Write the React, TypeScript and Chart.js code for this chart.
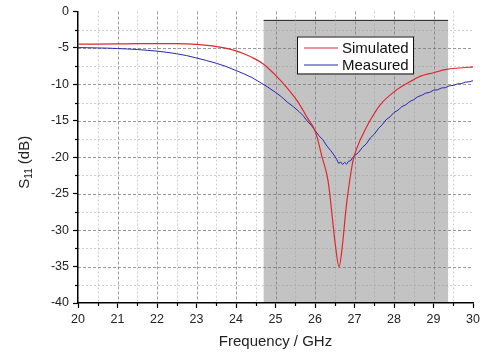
import React, { useEffect, useRef } from "react";
import { Chart, registerables } from "chart.js";

Chart.register(...registerables);

// ---- data ----
const simFreq = [20.0, 20.5, 21.0, 21.5, 22.0, 22.5, 23.0, 23.4, 23.7, 24.0, 24.2, 24.48, 24.69, 25.03, 25.32, 25.58, 25.83, 25.96, 26.04, 26.17, 26.33, 26.42, 26.51, 26.61, 26.7, 26.78, 26.87, 26.97, 27.1, 27.2, 27.39, 27.65, 28.03, 28.35, 28.66, 29.0, 29.33, 29.65, 30.0];
const simDb = [-4.48, -4.47, -4.45, -4.42, -4.4, -4.4, -4.5, -4.72, -5.0, -5.4, -5.8, -6.5, -7.2, -8.9, -10.65, -12.5, -14.8, -15.9, -17.0, -19.8, -23.2, -27.3, -31.8, -35.0, -31.8, -27.3, -23.5, -20.3, -18.2, -17.0, -15.0, -12.8, -10.9, -9.8, -8.9, -8.4, -7.95, -7.75, -7.6];

const measFreq = [20.0, 20.25, 20.5, 20.75, 21.0, 21.25, 21.5, 21.75, 22.0, 22.25, 22.5, 22.75, 23.0, 23.25, 23.5, 23.75, 24.0, 24.2, 24.4, 24.6, 24.8, 25.0, 25.15, 25.3, 25.45, 25.6, 25.7, 25.8, 25.9, 26.0, 26.1, 26.2, 26.3, 26.4, 26.5, 26.55, 26.6, 26.65, 26.7, 26.75, 26.8, 26.85, 26.9, 26.95, 27.0, 27.1, 27.2, 27.3, 27.4, 27.5, 27.6, 27.7, 27.8, 27.9, 28.0, 28.1, 28.2, 28.3, 28.4, 28.5, 28.6, 28.7, 28.8, 28.9, 29.0, 29.1, 29.2, 29.3, 29.4, 29.5, 29.6, 29.7, 29.8, 29.9, 30.0];
const measDb = [-4.95, -4.97, -5.0, -5.03, -5.08, -5.14, -5.22, -5.32, -5.44, -5.6, -5.8, -6.05, -6.38, -6.72, -7.1, -7.55, -8.1, -8.55, -9.05, -9.7, -10.35, -11.1, -11.7, -12.45, -13.05, -13.75, -14.3, -15.0, -15.6, -16.3, -17.05, -17.6, -18.45, -19.1, -19.85, -20.3, -20.85, -20.65, -21.0, -20.7, -20.95, -20.55, -20.5, -20.05, -19.8, -19.35, -18.65, -18.15, -17.35, -16.85, -16.1, -15.55, -14.85, -14.45, -13.85, -13.55, -13.05, -12.8, -12.35, -12.1, -11.7, -11.5, -11.2, -11.1, -10.8, -10.75, -10.5, -10.45, -10.2, -10.15, -9.95, -9.9, -9.7, -9.65, -9.5];

const seriesLabels = ["Simulated", "Measured"];
const seriesColors = ["#e2262e", "#2828b4"];

const xTickMin = 20;
const xTickMax = 30;
const yTickMin = -40;
const yTickMax = 0;

// shaded band (GHz range and top in dB)
const bandStart = 24.7;
const bandEnd = 29.37;
const bandTop = -1.1;

const FONT = "'Liberation Sans', Arial, sans-serif";

const backgroundPlugin = {
  id: "bgGrid",
  beforeDraw(chart: any) {
    const { ctx, chartArea, scales } = chart;
    const xs = scales.x;
    const ys = scales.y;
    ctx.save();
    // band
    const bx0 = xs.getPixelForValue(bandStart);
    const bx1 = xs.getPixelForValue(bandEnd);
    const by0 = ys.getPixelForValue(bandTop);
    const by1 = ys.getPixelForValue(yTickMin);
    ctx.fillStyle = "#c3c3c3";
    ctx.fillRect(bx0, by0, bx1 - bx0, by1 - by0);
    ctx.strokeStyle = "#333";
    ctx.lineWidth = 1;
    ctx.beginPath();
    ctx.moveTo(bx0, Math.round(by0) + 0.5);
    ctx.lineTo(bx1, Math.round(by0) + 0.5);
    ctx.stroke();

    // grid lines
    ctx.lineWidth = 1;
    // minor
    ctx.setLineDash([2, 2]);
    ctx.strokeStyle = "rgba(150,150,150,0.45)";
    for (let v = xTickMin + 0.5; v < xTickMax; v += 1) {
      const px = Math.round(xs.getPixelForValue(v)) + 0.5;
      ctx.beginPath();
      ctx.moveTo(px, chartArea.top);
      ctx.lineTo(px, chartArea.bottom);
      ctx.stroke();
    }
    for (let v = yTickMin + 2.5; v < yTickMax; v += 5) {
      const py = Math.round(ys.getPixelForValue(v)) + 0.5;
      ctx.beginPath();
      ctx.moveTo(chartArea.left, py);
      ctx.lineTo(chartArea.right, py);
      ctx.stroke();
    }
    // major
    ctx.setLineDash([3, 2]);
    ctx.strokeStyle = "rgba(120,120,120,0.75)";
    for (let v = xTickMin + 1; v < xTickMax; v += 1) {
      const px = Math.round(xs.getPixelForValue(v)) + 0.5;
      ctx.beginPath();
      ctx.moveTo(px, chartArea.top);
      ctx.lineTo(px, chartArea.bottom);
      ctx.stroke();
    }
    for (let v = yTickMin + 5; v < yTickMax; v += 5) {
      const py = Math.round(ys.getPixelForValue(v)) + 0.5;
      ctx.beginPath();
      ctx.moveTo(chartArea.left, py);
      ctx.lineTo(chartArea.right, py);
      ctx.stroke();
    }
    ctx.restore();
  },
  afterDraw(chart: any) {
    const { ctx, chartArea, scales } = chart;
    const xs = scales.x;
    const ys = scales.y;
    ctx.save();
    // minor ticks
    ctx.strokeStyle = "#000";
    ctx.lineWidth = 1.2;
    ctx.setLineDash([]);
    for (let v = xTickMin + 0.5; v < xTickMax; v += 1) {
      const px = Math.round(xs.getPixelForValue(v)) + 0.5;
      ctx.beginPath();
      ctx.moveTo(px, chartArea.bottom);
      ctx.lineTo(px, chartArea.bottom + 3);
      ctx.stroke();
    }
    for (let v = yTickMin + 2.5; v < yTickMax; v += 5) {
      const py = Math.round(ys.getPixelForValue(v)) + 0.5;
      ctx.beginPath();
      ctx.moveTo(chartArea.left, py);
      ctx.lineTo(chartArea.left - 3, py);
      ctx.stroke();
    }

    // y title with subscript
    const cy = (chartArea.top + chartArea.bottom) / 2 + 5;
    ctx.translate(25, cy);
    ctx.rotate(-Math.PI / 2);
    ctx.fillStyle = "#222";
    ctx.textBaseline = "middle";
    const big = `15px ${FONT}`;
    const small = `10px ${FONT}`;
    ctx.font = big;
    const wS = ctx.measureText("S").width;
    const wRest = ctx.measureText(" (dB)").width;
    ctx.font = small;
    const wSub = ctx.measureText("11").width;
    const total = wS + wSub + wRest;
    let x = -total / 2;
    ctx.font = big;
    ctx.textAlign = "left";
    ctx.fillText("S", x, 0);
    x += wS;
    ctx.font = small;
    ctx.fillText("11", x, 4);
    x += wSub;
    ctx.font = big;
    ctx.fillText(" (dB)", x, 0);
    ctx.restore();

    // legend
    ctx.save();
    const lx = chartArea.left + 219;
    const ly = chartArea.top + 25;
    const lw = 116;
    const lh = 37;
    ctx.fillStyle = "#fff";
    ctx.fillRect(lx, ly, lw, lh);
    ctx.strokeStyle = "#111";
    ctx.lineWidth = 1;
    ctx.strokeRect(lx + 0.5, ly + 0.5, lw, lh);
    ctx.font = `15px ${FONT}`;
    ctx.textBaseline = "middle";
    ctx.textAlign = "left";
    chart.data.datasets.forEach((ds: any, i: number) => {
      const yy = ly + 11 + i * 17;
      ctx.strokeStyle = ds.borderColor;
      ctx.lineWidth = 1.2;
      ctx.beginPath();
      ctx.moveTo(lx + 7, yy + 0.5);
      ctx.lineTo(lx + 41, yy + 0.5);
      ctx.stroke();
      ctx.fillStyle = "#111";
      ctx.fillText(ds.label, lx + 45, yy + 1);
    });
    ctx.restore();
  },
};

export default function App() {
  const ref = useRef<HTMLCanvasElement | null>(null);
  useEffect(() => {
    document.body.style.margin = "0";
    if (!ref.current) return;
    const chart = new Chart(ref.current, {
      type: "line",
      data: {
        datasets: [
          {
            label: seriesLabels[0],
            data: simFreq.map((f, i) => ({ x: f, y: simDb[i] })),
            borderColor: seriesColors[0],
            borderWidth: 1.2,
            pointRadius: 0,
            tension: 0.4,
            cubicInterpolationMode: "monotone",
            fill: false,
          },
          {
            label: seriesLabels[1],
            data: measFreq.map((f, i) => ({ x: f, y: measDb[i] })),
            borderColor: seriesColors[1],
            borderWidth: 1.0,
            pointRadius: 0,
            tension: 0,
            fill: false,
          },
        ],
      },
      options: {
        animation: false,
        responsive: false,
        maintainAspectRatio: false,
        layout: { padding: { top: 10, right: 13, left: 0, bottom: 0 } },
        plugins: { legend: { display: false }, tooltip: { enabled: false } },
        scales: {
          x: {
            type: "linear",
            min: xTickMin,
            max: xTickMax,
            afterFit: (s: any) => {
              s.height = 55;
            },
            ticks: {
              stepSize: 1,
              color: "#222",
              font: { family: FONT, size: 12.5 },
              padding: 4,
              maxRotation: 0,
            },
            grid: {
              display: true,
              drawOnChartArea: false,
              drawTicks: true,
              tickLength: 5,
              tickColor: "#000",
              tickWidth: 1.2,
            },
            border: { display: true, color: "#000", width: 1.5 },
            title: {
              display: true,
              text: "Frequency / GHz",
              color: "#222",
              font: { family: FONT, size: 15 },
              padding: { top: 0, bottom: 7 },
            },
          },
          y: {
            type: "linear",
            min: yTickMin,
            max: yTickMax,
            afterFit: (s: any) => {
              s.width = 78;
            },
            ticks: {
              stepSize: 5,
              color: "#222",
              font: { family: FONT, size: 12.5 },
              padding: 4,
            },
            grid: {
              display: true,
              drawOnChartArea: false,
              drawTicks: true,
              tickLength: 5,
              tickColor: "#000",
              tickWidth: 1.2,
            },
            border: { display: true, color: "#000", width: 1.5 },
          },
        },
      },
      plugins: [backgroundPlugin],
    } as any);
    return () => chart.destroy();
  }, []);
  return (
    <div style={{ width: 486, height: 358, background: "#fff" }}>
      <canvas ref={ref} width={486} height={358} style={{ display: "block" }} />
    </div>
  );
}
